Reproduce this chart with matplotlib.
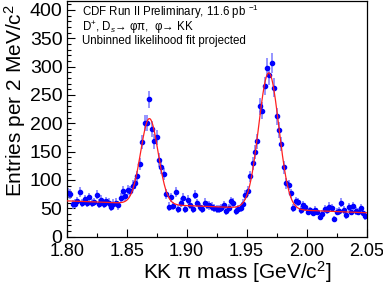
import numpy as np
import matplotlib
matplotlib.use("Agg")
import matplotlib.pyplot as plt
from matplotlib.ticker import MultipleLocator

plt.rcParams["font.family"] = ["Liberation Sans", "DejaVu Sans"]
plt.rcParams["mathtext.fontset"] = "custom"
plt.rcParams["mathtext.rm"] = "Liberation Sans"
plt.rcParams["mathtext.it"] = "Liberation Sans:italic"
plt.rcParams["mathtext.bf"] = "Liberation Sans:bold"

# KK pi mass histogram, 2 MeV bins from 1.80 GeV
mass_lo = 1.80
bin_w = 0.002
counts = [
    77, 75, 57, 58, 62, 78, 59, 66, 59, 69, 59, 61, 74, 58, 65, 58, 62, 60, 52, 58,
    60, 55, 68, 80, 71, 82, 80, 90, 94, 106, 128,
    167, 200, 200, 242, 190, 168, 175, 135, 122, 110, 75,
    53, 69, 54, 79, 48, 60, 68, 48, 65, 56, 48, 74, 59, 52, 48, 60, 56, 55, 53, 50,
    49, 49, 50, 56, 45, 51, 62, 60, 45, 48, 50,
    58, 73, 81, 106, 129, 150, 168, 230, 222, 266, 298, 285, 306, 263, 212, 188, 163,
    122, 94, 91, 76, 50, 62, 61, 47, 56, 52, 44, 46, 42, 47, 44, 35, 40, 48, 47, 53,
    50, 31, 44, 45, 60, 47, 38, 52, 44, 54, 45, 44, 50, 42, 36,
]

# fit parameters
bkg_at_lo = 63.0
bkg_slope = -84.0
dplus_height, dplus_mean, dplus_sigma = 151.0, 1.8690, 0.0073
ds_height, ds_mean, ds_sigma = 240.0, 1.9685, 0.0084

counts = np.array(counts, dtype=float)
centers = mass_lo + bin_w * (np.arange(len(counts)) + 0.5)
errors = np.sqrt(counts)


def fit_model(m):
    bkg = bkg_at_lo + bkg_slope * (m - mass_lo)
    g1 = dplus_height * np.exp(-0.5 * ((m - dplus_mean) / dplus_sigma) ** 2)
    g2 = ds_height * np.exp(-0.5 * ((m - ds_mean) / ds_sigma) ** 2)
    return bkg + g1 + g2


fig = plt.figure(figsize=(3.83, 2.85), dpi=100)
ax = fig.add_axes([0.174, 0.170, 0.783, 0.827])

ax.errorbar(centers, counts, yerr=errors, xerr=bin_w / 2, fmt="o", ms=3,
            color="#0000ff", ecolor="#7878ff", elinewidth=1.1, capsize=0, zorder=2)
mf = np.linspace(1.80, 2.05, 600)
ax.plot(mf, fit_model(mf), color="#ff2020", lw=0.9, zorder=3)

ax.set_xlim(1.80, 2.05)
ax.set_ylim(0, 416)
ax.xaxis.set_major_locator(MultipleLocator(0.05))
ax.xaxis.set_minor_locator(MultipleLocator(0.025))
ax.yaxis.set_major_locator(MultipleLocator(50))
ax.yaxis.set_minor_locator(MultipleLocator(10))
ax.xaxis.set_major_formatter(matplotlib.ticker.FormatStrFormatter("%.2f"))
ax.tick_params(which="both", direction="in", top=False, right=False)
ax.tick_params(which="major", length=6, width=0.8)
ax.tick_params(which="minor", length=3, width=0.8)
ax.tick_params(axis="y", pad=3, labelsize=14)
ax.tick_params(axis="x", pad=5, labelsize=13)
for s in ax.spines.values():
    s.set_linewidth(0.9)

ax.set_xlabel("KK π mass [GeV/c$^{2}$]", fontsize=15, ha="right", va="baseline")
ax.xaxis.set_label_coords(0.884, -0.18)
ax.set_ylabel("Entries per 2 MeV/c$^{2}$", fontsize=15, ha="right")
ax.yaxis.set_label_coords(-0.13, 0.985)

ax.text(0.05, 0.934, "CDF Run II Preliminary, 11.6 pb $^{-1}$", transform=ax.transAxes,
        fontsize=8.3, va="baseline", ha="left")
ax.text(0.05, 0.871, "D$^{+}$, D$_{s}$→ φπ,  φ→ KK",
        transform=ax.transAxes, fontsize=8.3, va="baseline", ha="left")
ax.text(0.05, 0.818, "Unbinned likelihood fit projected", transform=ax.transAxes,
        fontsize=8.3, va="baseline", ha="left")

fig.savefig("out.png", dpi=100)
